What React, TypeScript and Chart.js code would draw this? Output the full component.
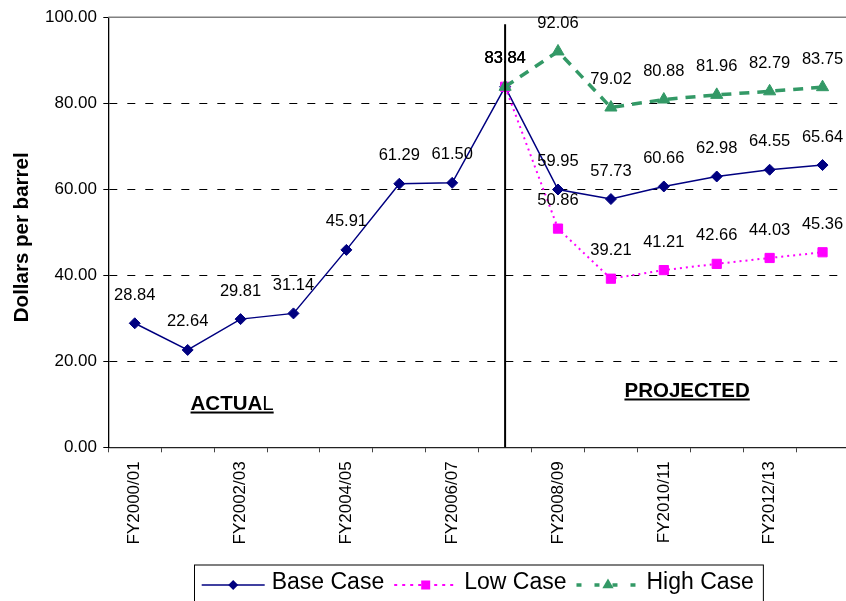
import React, { useEffect, useRef } from 'react';
import { Chart, registerables } from 'chart.js';

Chart.register(...registerables);

// ---------- data ----------
const categories = [
  'FY2000/01', 'FY2001/02', 'FY2002/03', 'FY2003/04', 'FY2004/05', 'FY2005/06', 'FY2006/07',
  'FY2007/08', 'FY2008/09', 'FY2009/10', 'FY2010/11', 'FY2011/12', 'FY2012/13', 'FY2013/14',
];
const baseCase = [28.84, 22.64, 29.81, 31.14, 45.91, 61.29, 61.5, 83.84, 59.95, 57.73, 60.66, 62.98, 64.55, 65.64];
const lowCase = [null, null, null, null, null, null, null, 83.84, 50.86, 39.21, 41.21, 42.66, 44.03, 45.36];
const highCase = [null, null, null, null, null, null, null, 83.84, 92.06, 79.02, 80.88, 81.96, 82.79, 83.75];
const yTickValues = [0, 20, 40, 60, 80, 100];
const seriesNames = ['Base Case', 'Low Case', 'High Case'];
const yTitle = 'Dollars per barrel';
const dividerIndex = 7;

// annotation texts, positioned in data space (category index, value)
const actualParts = [
  { text: 'ACTUA', bold: true },
  { text: 'L', bold: false },
];
const actualPos = { x: 1.84, y: 8.67 };
const projectedParts = [{ text: 'PROJECTED', bold: true }];
const projectedPos = { x: 10.44, y: 11.7 };

// ---------- styles ----------
const FONT = '"Liberation Sans", Arial, Helvetica, sans-serif';
const NAVY = '#000080';
const MAGENTA = '#FF00FF';
const GREEN = '#339966';

const drawMarker = (ctx: CanvasRenderingContext2D, kind: string, x: number, y: number, color: string) => {
  ctx.save();
  ctx.fillStyle = color;
  ctx.setLineDash([]);
  ctx.beginPath();
  if (kind === 'diamond') {
    const r = 5;
    ctx.moveTo(x, y - r);
    ctx.lineTo(x + r, y);
    ctx.lineTo(x, y + r);
    ctx.lineTo(x - r, y);
  } else if (kind === 'square') {
    const s = 4.5;
    ctx.rect(x - s, y - s, 2 * s, 2 * s);
  } else {
    const r = 6.5;
    ctx.moveTo(x, y - r);
    ctx.lineTo(x + r * 0.866, y + r * 0.5);
    ctx.lineTo(x - r * 0.866, y + r * 0.5);
  }
  ctx.closePath();
  ctx.fill();
  ctx.restore();
};

const drawParts = (
  ctx: CanvasRenderingContext2D,
  parts: { text: string; bold: boolean }[],
  cx: number,
  baseline: number,
  size: number,
) => {
  let total = 0;
  const widths: number[] = [];
  parts.forEach((p) => {
    ctx.font = `${p.bold ? 'bold ' : ''}${size}px ${FONT}`;
    const w = ctx.measureText(p.text).width;
    widths.push(w);
    total += w;
  });
  let x = cx - total / 2;
  ctx.textAlign = 'left';
  ctx.textBaseline = 'alphabetic';
  ctx.fillStyle = '#000';
  parts.forEach((p, i) => {
    ctx.font = `${p.bold ? 'bold ' : ''}${size}px ${FONT}`;
    ctx.fillText(p.text, x, baseline);
    x += widths[i];
  });
  ctx.fillRect(cx - total / 2, baseline + 1.5, total, 2);
};

const customDraw = {
  id: 'customDraw',
  afterDatasetsDraw(chart: any) {
    const ctx: CanvasRenderingContext2D = chart.ctx;
    const { chartArea } = chart;
    const xs = chart.scales.x;
    const ys = chart.scales.y;
    ctx.save();

    // top border line
    ctx.strokeStyle = '#808080';
    ctx.lineWidth = 1.5;
    ctx.beginPath();
    ctx.moveTo(chartArea.left, chartArea.top);
    ctx.lineTo(chartArea.right, chartArea.top);
    ctx.stroke();

    // divider between actual and projected
    const dx = xs.getPixelForValue(dividerIndex);
    ctx.strokeStyle = '#000';
    ctx.lineWidth = 2;
    ctx.beginPath();
    ctx.moveTo(dx, chartArea.top + 7);
    ctx.lineTo(dx, chartArea.bottom);
    ctx.stroke();

    // data labels
    ctx.font = `16.5px ${FONT}`;
    ctx.fillStyle = '#000';
    ctx.textAlign = 'center';
    ctx.textBaseline = 'middle';
    chart.data.datasets.forEach((ds: any, i: number) => {
      const meta = chart.getDatasetMeta(i);
      meta.data.forEach((pt: any, j: number) => {
        const v = ds.data[j];
        if (v === null || v === undefined) return;
        ctx.fillText(v.toFixed(2), pt.x, pt.y - 28);
      });
    });

    // annotations
    drawParts(ctx, actualParts, xs.getPixelForValue(actualPos.x), ys.getPixelForValue(actualPos.y), 20.5);
    drawParts(ctx, projectedParts, xs.getPixelForValue(projectedPos.x), ys.getPixelForValue(projectedPos.y), 20.5);

    // y axis title
    ctx.save();
    ctx.translate(22, (chartArea.top + chartArea.bottom) / 2 + 5);
    ctx.rotate(-Math.PI / 2);
    ctx.font = `bold 20.5px ${FONT}`;
    ctx.textAlign = 'center';
    ctx.textBaseline = 'middle';
    ctx.fillText(yTitle, 0, 0);
    ctx.restore();

    // legend
    const items = [
      { name: seriesNames[0], color: NAVY, dash: [] as number[], width: 1.5, marker: 'diamond' },
      { name: seriesNames[1], color: MAGENTA, dash: [3, 5], width: 2, marker: 'square' },
      { name: seriesNames[2], color: GREEN, dash: [5, 13], width: 3.5, marker: 'triangle' },
    ];
    const legendLeft = 194;
    const legendTop = 564.5;
    const cy = 585;
    ctx.font = `23px ${FONT}`;
    let x = legendLeft + 7.7;
    items.forEach((it, idx) => {
      ctx.save();
      ctx.strokeStyle = it.color;
      ctx.lineWidth = it.width;
      ctx.setLineDash(it.dash);
      ctx.beginPath();
      ctx.moveTo(x, cy);
      ctx.lineTo(x + 63, cy);
      ctx.stroke();
      ctx.restore();
      drawMarker(ctx, it.marker, x + 31.5, cy, it.color);
      x += 63 + 7;
      ctx.font = `23px ${FONT}`;
      ctx.fillStyle = '#000';
      ctx.textAlign = 'left';
      ctx.textBaseline = 'middle';
      ctx.fillText(it.name, x, cy - 2);
      x += ctx.measureText(it.name).width;
      if (idx < items.length - 1) x += 10;
    });
    const legendRight = x + 9;
    ctx.strokeStyle = '#000';
    ctx.lineWidth = 1;
    ctx.setLineDash([]);
    ctx.strokeRect(legendLeft + 0.5, legendTop + 0.5, legendRight - legendLeft, 60);

    ctx.restore();
  },
};

export default function App() {
  const canvasRef = useRef<HTMLCanvasElement | null>(null);

  useEffect(() => {
    const canvas = canvasRef.current;
    if (!canvas) return;
    const chart = new Chart(canvas, {
      type: 'line',
      data: {
        labels: categories,
        datasets: [
          {
            label: seriesNames[0],
            data: baseCase,
            borderColor: NAVY,
            backgroundColor: NAVY,
            borderWidth: 1.5,
            pointStyle: 'rectRot',
            pointRadius: 5.5,
            pointBorderWidth: 1,
            pointBackgroundColor: NAVY,
            pointBorderColor: NAVY,
            tension: 0,
            order: 3,
          },
          {
            label: seriesNames[1],
            data: lowCase,
            borderColor: MAGENTA,
            backgroundColor: MAGENTA,
            borderWidth: 2,
            borderDash: [2, 4],
            pointStyle: 'rect',
            pointRadius: 6.5,
            pointBorderWidth: 1,
            pointBackgroundColor: MAGENTA,
            pointBorderColor: MAGENTA,
            tension: 0,
            order: 2,
          },
          {
            label: seriesNames[2],
            data: highCase,
            borderColor: GREEN,
            backgroundColor: GREEN,
            borderWidth: 3.5,
            borderDash: [10, 8],
            pointStyle: 'triangle',
            pointRadius: 7,
            pointBorderWidth: 1,
            pointBackgroundColor: GREEN,
            pointBorderColor: GREEN,
            tension: 0,
            order: 1,
          },
        ],
      },
      options: {
        responsive: false,
        animation: false,
        events: [],
        layout: { autoPadding: false, padding: { top: 17.3, left: 0, right: 0, bottom: 0 } },
        plugins: {
          legend: { display: false },
          tooltip: { enabled: false },
          title: { display: false },
        },
        scales: {
          x: {
            type: 'category',
            offset: true,
            grid: {
              display: true,
              drawOnChartArea: false,
              drawTicks: true,
              tickLength: 5,
              offset: true,
              tickColor: '#444',
              tickWidth: 1,
            },
            border: { display: true, color: '#222', width: 1.2 },
            ticks: {
              autoSkip: false,
              maxRotation: 90,
              minRotation: 90,
              padding: 9,
              color: '#000',
              font: { family: FONT, size: 17 },
              callback: (_v: any, i: number) => (i % 2 === 0 ? categories[i] : ''),
            },
            afterFit: (s: any) => {
              s.height = 153.7;
              s.paddingLeft = 0;
              s.paddingRight = 0;
            },
          },
          y: {
            min: 0,
            max: 100,
            afterBuildTicks: (s: any) => {
              s.ticks = yTickValues.map((v) => ({ value: v }));
            },
            grid: {
              display: true,
              drawOnChartArea: true,
              drawTicks: true,
              tickLength: 5,
              tickColor: '#000',
              lineWidth: 1,
              color: (c: any) =>
                c.tick && (c.tick.value === 0 || c.tick.value === 100) ? 'rgba(0,0,0,0)' : '#000',
            },
            border: { display: true, color: '#000', width: 1.3, dash: [8, 10] },
            ticks: {
              color: '#000',
              padding: 6.3,
              font: { family: FONT, size: 17 },
              callback: (v: any) => Number(v).toFixed(2),
            },
            afterFit: (s: any) => {
              s.width = 108.3;
              s.paddingTop = 0;
              s.paddingBottom = 0;
            },
          },
        },
      },
      plugins: [customDraw],
    } as any);
    return () => chart.destroy();
  }, []);

  return (
    <div
      style={{
        position: 'absolute',
        left: 0,
        top: 0,
        width: 846,
        height: 601,
        overflow: 'hidden',
        background: '#fff',
      }}
    >
      <canvas ref={canvasRef} width={849} height={601} style={{ display: 'block' }} />
    </div>
  );
}
